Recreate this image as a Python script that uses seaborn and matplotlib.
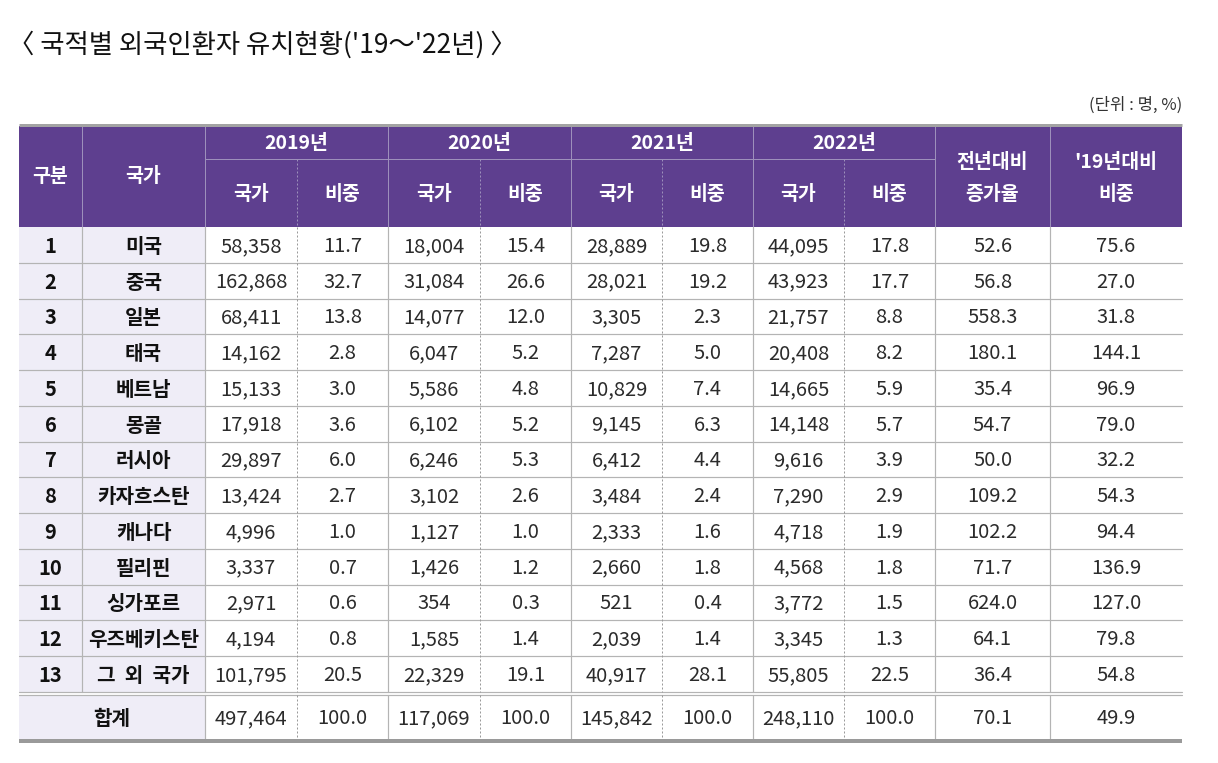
import numpy as np
import pandas as pd
import seaborn as sns
import matplotlib.pyplot as plt

sns.set_theme(style='white')
plt.rcParams['font.family'] = ['Noto Sans CJK KR', 'DejaVu Sans']

# --- data ---
ranks = list(range(1, 14))
countries = ['미국', '중국', '일본', '태국', '베트남', '몽골', '러시아', '카자흐스탄',
             '캐나다', '필리핀', '싱가포르', '우즈베키스탄', '그 외 국가']
years = ['2019년', '2020년', '2021년', '2022년']
cnt_2019 = [58358, 162868, 68411, 14162, 15133, 17918, 29897, 13424, 4996, 3337, 2971, 4194, 101795]
pct_2019 = [11.7, 32.7, 13.8, 2.8, 3.0, 3.6, 6.0, 2.7, 1.0, 0.7, 0.6, 0.8, 20.5]
cnt_2020 = [18004, 31084, 14077, 6047, 5586, 6102, 6246, 3102, 1127, 1426, 354, 1585, 22329]
pct_2020 = [15.4, 26.6, 12.0, 5.2, 4.8, 5.2, 5.3, 2.6, 1.0, 1.2, 0.3, 1.4, 19.1]
cnt_2021 = [28889, 28021, 3305, 7287, 10829, 9145, 6412, 3484, 2333, 2660, 521, 2039, 40917]
pct_2021 = [19.8, 19.2, 2.3, 5.0, 7.4, 6.3, 4.4, 2.4, 1.6, 1.8, 0.4, 1.4, 28.1]
cnt_2022 = [44095, 43923, 21757, 20408, 14665, 14148, 9616, 7290, 4718, 4568, 3772, 3345, 55805]
pct_2022 = [17.8, 17.7, 8.8, 8.2, 5.9, 5.7, 3.9, 2.9, 1.9, 1.8, 1.5, 1.3, 22.5]
growth_yoy = [52.6, 56.8, 558.3, 180.1, 35.4, 54.7, 50.0, 109.2, 102.2, 71.7, 624.0, 64.1, 36.4]
ratio_vs19 = [75.6, 27.0, 31.8, 144.1, 96.9, 79.0, 32.2, 54.3, 94.4, 136.9, 127.0, 79.8, 54.8]
total_row = [497464, 100.0, 117069, 100.0, 145842, 100.0, 248110, 100.0, 70.1, 49.9]

df = pd.DataFrame({
    'rank': ranks, 'country': countries,
    'c19': cnt_2019, 'p19': pct_2019, 'c20': cnt_2020, 'p20': pct_2020,
    'c21': cnt_2021, 'p21': pct_2021, 'c22': cnt_2022, 'p22': pct_2022,
    'yoy': growth_yoy, 'vs19': ratio_vs19,
})
value_cols = ['c19', 'p19', 'c20', 'p20', 'c21', 'p21', 'c22', 'p22', 'yoy', 'vs19']


def fmt(col, v):
    return f'{v:,}' if col.startswith('c') else f'{v:.1f}'


# --- layout (pixels) ---
W, H = 1218, 763
xs = [19, 82, 205, 297, 388, 480, 571, 662, 753, 844, 935, 1050, 1182]
y_top, y_mid, y_head = 126, 159, 227
row_h = 35.75
y_rows = [y_head + i * row_h for i in range(len(df) + 1)]
y_tot0, y_tot1 = y_rows[-1] + 3.5, 739
dy = 1.5  # CJK font sits a bit high with va='center'

PURPLE = '#5e3f8f'
LAV = '#efedf7'
GRID = '#b4b4b4'
TXT = '#2b2b2b'

fig = plt.figure(figsize=(W / 100, H / 100), dpi=100)
ax = fig.add_axes([0, 0, 1, 1])
ax.set_xlim(0, W)
ax.set_ylim(H, 0)
ax.axis('off')

px = 0.72  # 1 px in points

# title and unit
ax.text(8, 45, "〈 국적별 외국인환자 유치현황('19～'22년) 〉", fontsize=19,
        va='center', ha='left', color='#111111')
ax.text(1182, 105, '(단위 : 명, %)', fontsize=12, va='center', ha='right', color='#333333')

# header background
ax.add_patch(plt.Rectangle((xs[0], y_top), xs[-1] - xs[0], y_head - y_top,
                           color=PURPLE, lw=0))
# lavender first columns in body
ax.add_patch(plt.Rectangle((xs[0], y_head), xs[2] - xs[0], y_rows[-1] - y_head,
                           color=LAV, lw=0))
ax.add_patch(plt.Rectangle((xs[0], y_tot0), xs[2] - xs[0], y_tot1 - y_tot0,
                           color=LAV, lw=0))

# header lines
hl = '#9d90bb'
ax.plot([xs[2], xs[10]], [y_mid, y_mid], color=hl, lw=1 * px)
for i, x in enumerate(xs[1:-1], start=1):
    if i in (3, 5, 7, 9):
        ax.plot([x, x], [y_mid, y_head], color=hl, lw=1 * px, ls=(0, (2, 2)))
    else:
        ax.plot([x, x], [y_top, y_head], color=hl, lw=1 * px)

# header text
hkw = dict(color='white', fontsize=14, fontweight='bold', ha='center', va='center')
yc = (y_top + y_head) / 2
ax.text((xs[0] + xs[1]) / 2, yc, '구분', **hkw)
ax.text((xs[1] + xs[2]) / 2, yc, '국가', **hkw)
for k, yr in enumerate(years):
    x0, x1, x2 = xs[2 + 2 * k], xs[3 + 2 * k], xs[4 + 2 * k]
    ax.text((x0 + x2) / 2, (y_top + y_mid) / 2 + 1, yr, **hkw)
    ax.text((x0 + x1) / 2, (y_mid + y_head) / 2 + 1, '국가', **hkw)
    ax.text((x1 + x2) / 2, (y_mid + y_head) / 2 + 1, '비중', **hkw)
ax.text((xs[10] + xs[11]) / 2, yc + 2, '전년대비\n증가율', linespacing=1.9, **hkw)
ax.text((xs[11] + xs[12]) / 2, yc + 2, "'19년대비\n비중", linespacing=1.9, **hkw)

# top border
ax.plot([xs[0], xs[-1]], [y_top - 1.5, y_top - 1.5], color='#a3a3a3', lw=3 * px,
        solid_capstyle='butt')

# body rows
for i, row in df.iterrows():
    y = (y_rows[i] + y_rows[i + 1]) / 2 + dy
    ax.text((xs[0] + xs[1]) / 2, y, str(row['rank']), fontsize=14.5, fontweight='bold',
            ha='center', va='center', color='#111111')
    name = row['country']
    if name == '그 외 국가':
        name = '그  외  국가'
    ax.text((xs[1] + xs[2]) / 2, y, name, fontsize=14.5, fontweight='bold',
            ha='center', va='center', color='#111111')
    for j, col in enumerate(value_cols):
        ax.text((xs[2 + j] + xs[3 + j]) / 2, y, fmt(col, row[col]), fontsize=14.5,
                ha='center', va='center', color=TXT)

# total row
yt = (y_tot0 + y_tot1) / 2 + dy
ax.text((xs[0] + xs[2]) / 2, yt, '합계', fontsize=14.5, fontweight='bold',
        ha='center', va='center', color='#111111')
for j, col in enumerate(value_cols):
    ax.text((xs[2 + j] + xs[3 + j]) / 2, yt, fmt(col, total_row[j]), fontsize=14.5,
            ha='center', va='center', color=TXT)

# horizontal grid lines in body
for y in y_rows[1:]:
    ax.plot([xs[0], xs[-1]], [y, y], color=GRID, lw=1.2 * px)
ax.plot([xs[0], xs[-1]], [y_tot0, y_tot0], color=GRID, lw=1.2 * px)

# vertical lines in body
for i, x in enumerate(xs[1:-1], start=1):
    if i in (3, 5, 7, 9):
        style = dict(color='#9a9a9a', lw=1 * px, ls=(0, (2, 2)))
    else:
        style = dict(color=GRID, lw=1.2 * px)
    ax.plot([x, x], [y_head, y_rows[-1]], **style)
    if i != 1:
        ax.plot([x, x], [y_tot0, y_tot1], **style)

# bottom border
ax.plot([xs[0], xs[-1]], [y_tot1 + 1.5, y_tot1 + 1.5], color='#9a9a9a', lw=4 * px,
        solid_capstyle='butt')

fig.savefig('out.png', dpi=100)
